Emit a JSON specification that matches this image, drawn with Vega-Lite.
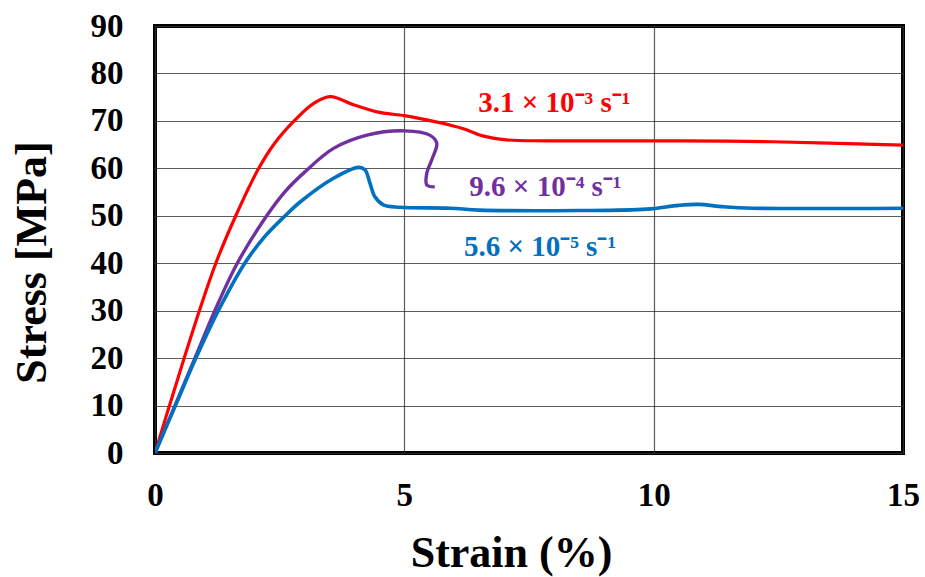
{
  "$schema": "https://vega.github.io/schema/vega-lite/v6.json",
  "autosize": "none",
  "width": 748,
  "height": 427,
  "padding": {"left": 155, "top": 26, "right": 22, "bottom": 124},
  "background": "white",
  "config": {
    "view": {"stroke": "black", "strokeWidth": 4},
    "font": "Liberation Serif"
  },
  "datasets": {
    "curves": [
      {"s": "A", "i": 0, "x": 0, "y": 0},
      {"s": "A", "i": 1, "x": 0.29, "y": 10},
      {"s": "A", "i": 2, "x": 0.585, "y": 20},
      {"s": "A", "i": 3, "x": 0.89, "y": 30},
      {"s": "A", "i": 4, "x": 1.22, "y": 40},
      {"s": "A", "i": 5, "x": 1.62, "y": 50},
      {"s": "A", "i": 6, "x": 2.08, "y": 60},
      {"s": "A", "i": 7, "x": 2.4, "y": 65.3},
      {"s": "A", "i": 8, "x": 2.79, "y": 70},
      {"s": "A", "i": 9, "x": 3.17, "y": 73.6},
      {"s": "A", "i": 10, "x": 3.51, "y": 75.1},
      {"s": "A", "i": 11, "x": 3.98, "y": 73.4},
      {"s": "A", "i": 12, "x": 4.45, "y": 71.9},
      {"s": "A", "i": 13, "x": 5.0, "y": 71.1},
      {"s": "A", "i": 14, "x": 5.45, "y": 70.2},
      {"s": "A", "i": 15, "x": 5.92, "y": 69.1},
      {"s": "A", "i": 16, "x": 6.2, "y": 68.3},
      {"s": "A", "i": 17, "x": 6.55, "y": 66.9},
      {"s": "A", "i": 18, "x": 7.05, "y": 66.0},
      {"s": "A", "i": 19, "x": 7.85, "y": 65.8},
      {"s": "A", "i": 20, "x": 10.5, "y": 65.8},
      {"s": "A", "i": 21, "x": 12.4, "y": 65.6},
      {"s": "A", "i": 22, "x": 15, "y": 64.9},
      {"s": "B", "i": 0, "x": 0, "y": 0},
      {"s": "B", "i": 1, "x": 0.4, "y": 10},
      {"s": "B", "i": 2, "x": 0.8, "y": 20},
      {"s": "B", "i": 3, "x": 1.2, "y": 30},
      {"s": "B", "i": 4, "x": 1.65, "y": 40},
      {"s": "B", "i": 5, "x": 2.24, "y": 50},
      {"s": "B", "i": 6, "x": 2.6, "y": 55.0},
      {"s": "B", "i": 7, "x": 3.0, "y": 59.2},
      {"s": "B", "i": 8, "x": 3.58, "y": 64.2},
      {"s": "B", "i": 9, "x": 4.25, "y": 67.0},
      {"s": "B", "i": 10, "x": 5.0, "y": 67.9},
      {"s": "B", "i": 11, "x": 5.51, "y": 67.0},
      {"s": "B", "i": 12, "x": 5.65, "y": 65.3},
      {"s": "B", "i": 13, "x": 5.55, "y": 61.8},
      {"s": "B", "i": 14, "x": 5.45, "y": 59.0},
      {"s": "B", "i": 15, "x": 5.45, "y": 56.5},
      {"s": "B", "i": 16, "x": 5.61, "y": 56.1},
      {"s": "C", "i": 0, "x": 0, "y": 0},
      {"s": "C", "i": 1, "x": 0.41, "y": 10},
      {"s": "C", "i": 2, "x": 0.82, "y": 20},
      {"s": "C", "i": 3, "x": 1.27, "y": 30},
      {"s": "C", "i": 4, "x": 1.8, "y": 40},
      {"s": "C", "i": 5, "x": 2.2, "y": 45.6},
      {"s": "C", "i": 6, "x": 2.61, "y": 50},
      {"s": "C", "i": 7, "x": 2.91, "y": 52.9},
      {"s": "C", "i": 8, "x": 3.58, "y": 57.9},
      {"s": "C", "i": 9, "x": 4.08, "y": 60.2},
      {"s": "C", "i": 10, "x": 4.21, "y": 59.7},
      {"s": "C", "i": 11, "x": 4.31, "y": 56.9},
      {"s": "C", "i": 12, "x": 4.41, "y": 54.0},
      {"s": "C", "i": 13, "x": 4.58, "y": 52.3},
      {"s": "C", "i": 14, "x": 4.91, "y": 51.8},
      {"s": "C", "i": 15, "x": 5.92, "y": 51.6},
      {"s": "C", "i": 16, "x": 6.5, "y": 51.2},
      {"s": "C", "i": 17, "x": 8.5, "y": 51.1},
      {"s": "C", "i": 18, "x": 9.86, "y": 51.4},
      {"s": "C", "i": 19, "x": 10.5, "y": 52.2},
      {"s": "C", "i": 20, "x": 10.9, "y": 52.4},
      {"s": "C", "i": 21, "x": 11.4, "y": 51.9},
      {"s": "C", "i": 22, "x": 12.0, "y": 51.6},
      {"s": "C", "i": 23, "x": 15, "y": 51.6}
    ],
    "labels": [
      {"s": "A", "x": 8.01, "y": 73.8, "t": "3.1 × 10⁻³ s⁻¹"},
      {"s": "B", "x": 7.83, "y": 56.1, "t": "9.6 × 10⁻⁴ s⁻¹"},
      {"s": "C", "x": 7.72, "y": 43.5, "t": "5.6 × 10⁻⁵ s⁻¹"}
    ]
  },
  "layer": [
    {
      "data": {"name": "curves"},
      "mark": {"type": "line", "interpolate": "catmull-rom", "clip": true},
      "encoding": {
        "x": {
          "field": "x", "type": "quantitative",
          "scale": {"domain": [0, 15], "nice": false},
          "axis": {
            "values": [0, 5, 10, 15], "title": "Strain (%)",
            "domain": false, "ticks": false,
            "grid": true, "gridColor": "#333", "gridWidth": 1.2, "gridOpacity": 0.8,
            "labelFont": "Liberation Serif", "labelFontWeight": "bold", "labelFontSize": 33, "labelColor": "#000",
            "labelPadding": 26, "labelFlush": false,
            "titleFont": "Liberation Serif", "titleFontWeight": "bold", "titleFontSize": 44, "titleColor": "#000",
            "titleX": 356, "titleY": 100, "titleAlign": "center", "titleBaseline": "middle"
          }
        },
        "y": {
          "field": "y", "type": "quantitative",
          "scale": {"domain": [0, 90], "nice": false},
          "axis": {
            "values": [0, 10, 20, 30, 40, 50, 60, 70, 80, 90], "title": "Stress [MPa]",
            "domain": false, "ticks": false,
            "grid": true, "gridColor": "#333", "gridWidth": 1.2, "gridOpacity": 0.8,
            "labelFont": "Liberation Serif", "labelFontWeight": "bold", "labelFontSize": 33, "labelColor": "#000",
            "labelPadding": 32, "labelFlush": false,
            "titleFont": "Liberation Serif", "titleFontWeight": "bold", "titleFontSize": 44, "titleColor": "#000",
            "titleX": -123, "titleY": 236, "titleAngle": -90, "titleAlign": "center", "titleBaseline": "middle"
          }
        },
        "color": {
          "field": "s", "type": "nominal",
          "scale": {"domain": ["A", "B", "C"], "range": ["#FF0000", "#7030A0", "#0070C0"]},
          "legend": null
        },
        "strokeWidth": {
          "field": "s", "type": "nominal",
          "scale": {"domain": ["A", "B", "C"], "range": [3.2, 3.6, 4.6]},
          "legend": null
        },
        "order": {"field": "i", "type": "quantitative"}
      }
    },
    {
      "data": {"name": "labels"},
      "mark": {"type": "text", "font": "Liberation Serif", "fontWeight": "bold", "fontSize": 29, "align": "center", "baseline": "middle"},
      "encoding": {
        "x": {"field": "x", "type": "quantitative"},
        "y": {"field": "y", "type": "quantitative"},
        "text": {"field": "t", "type": "nominal"},
        "color": {
          "field": "s", "type": "nominal",
          "scale": {"domain": ["A", "B", "C"], "range": ["#FF0000", "#7030A0", "#0070C0"]},
          "legend": null
        }
      }
    }
  ]
}
